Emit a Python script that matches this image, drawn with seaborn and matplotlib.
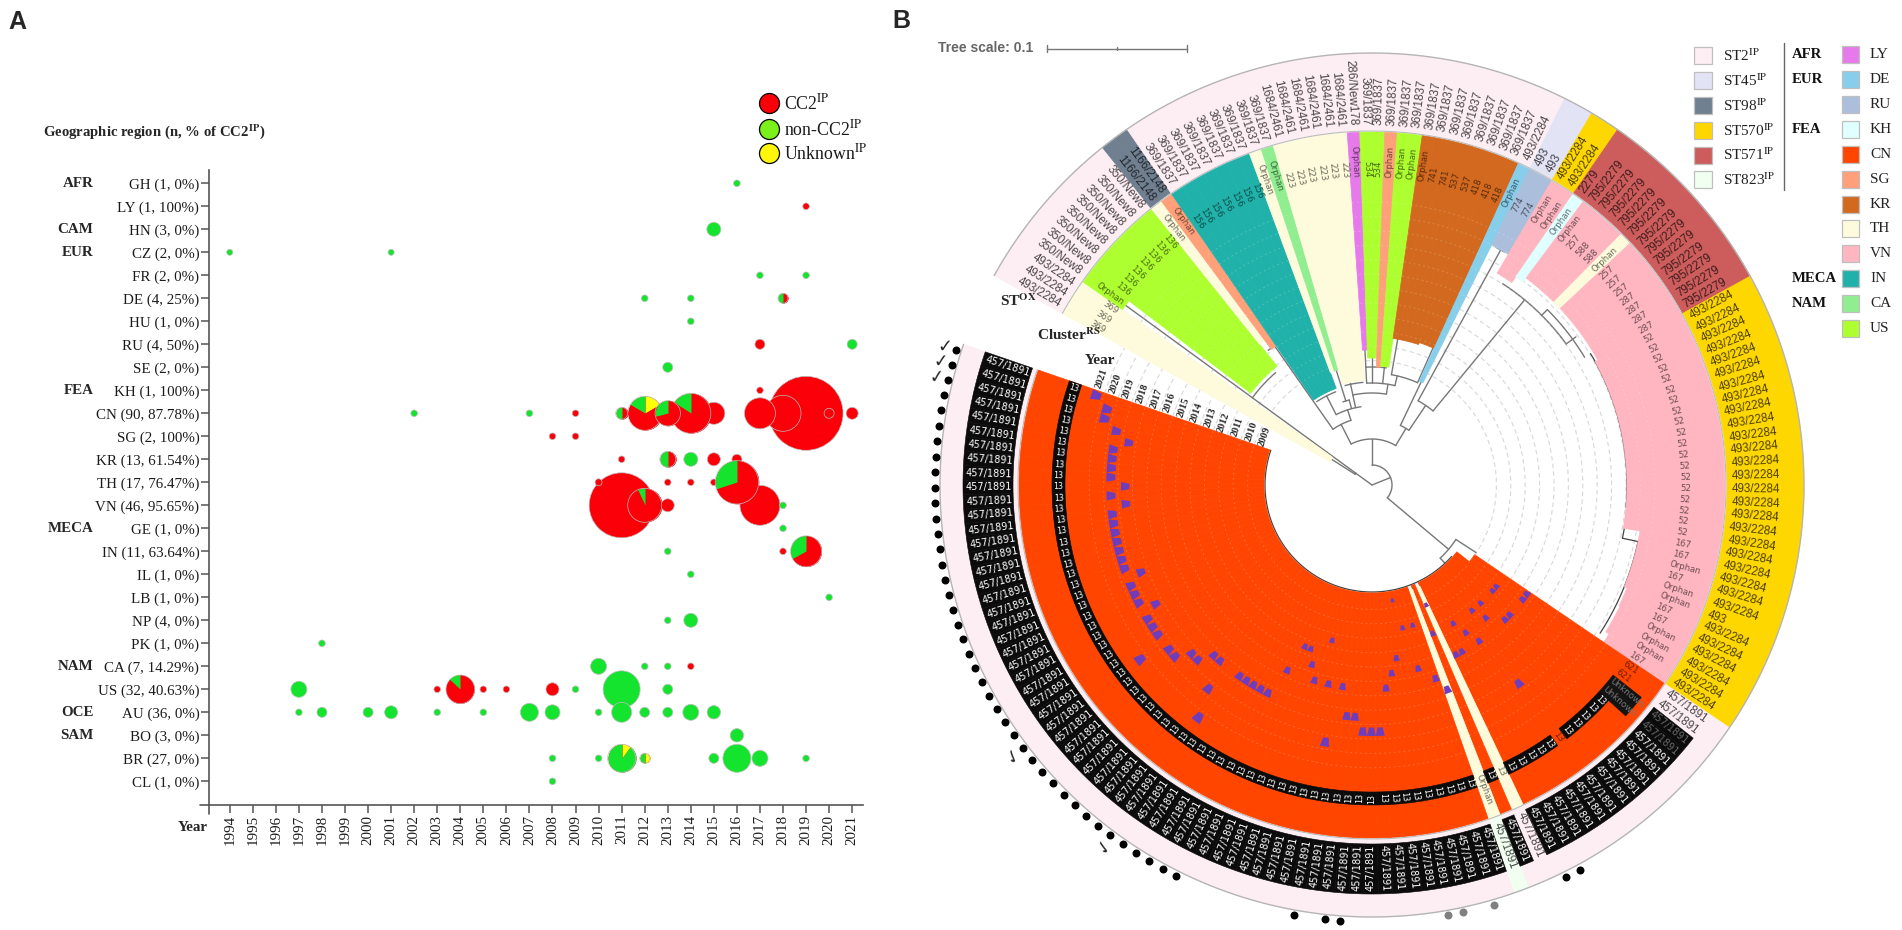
"""Isolate bubble timeline (A) and circular phylogeny annotation rings (B)."""

import matplotlib.colors as mcolors
import matplotlib.pyplot as plt
import numpy as np
import pandas as pd
import seaborn as sns
from matplotlib.path import Path
from matplotlib.patches import Rectangle

# panel A
countries = ["GH", "LY", "HN", "CZ", "FR", "DE", "HU", "RU", "SE", "KH", "CN", "SG", "KR", "TH",
             "VN", "GE", "IN", "IL", "LB", "NP", "PK", "CA", "US", "AU", "BO", "BR", "CL"]
country_labels = ["GH (1, 0%)", "LY (1, 100%)", "HN (3, 0%)", "CZ (2, 0%)", "FR (2, 0%)", "DE (4, 25%)",
                  "HU (1, 0%)", "RU (4, 50%)", "SE (2, 0%)", "KH (1, 100%)", "CN (90, 87.78%)",
                  "SG (2, 100%)", "KR (13, 61.54%)", "TH (17, 76.47%)", "VN (46, 95.65%)", "GE (1, 0%)",
                  "IN (11, 63.64%)", "IL (1, 0%)", "LB (1, 0%)", "NP (4, 0%)", "PK (1, 0%)",
                  "CA (7, 14.29%)", "US (32, 40.63%)", "AU (36, 0%)", "BO (3, 0%)", "BR (27, 0%)",
                  "CL (1, 0%)"]
region_rows = ["GH", "HN", "CZ", "KH", "GE", "CA", "AU", "BO"]
region_names = ["AFR", "CAM", "EUR", "FEA", "MECA", "NAM", "OCE", "SAM"]
years = list(range(1994, 2022))

red_country = ["LY", "RU", "KH", "CN", "CN", "CN", "CN", "CN", "CN", "CN", "SG", "SG", "KR", "KR", "KR", "TH",
               "TH", "TH", "TH", "VN", "VN", "VN", "IN", "CA", "US", "US", "US", "US"]
red_year = [2019, 2017, 2017, 2009, 2015, 2017, 2018, 2019, 2020, 2021, 2008, 2009, 2011, 2015, 2016, 2010,
            2013, 2014, 2015, 2011, 2013, 2017, 2018, 2014, 2003, 2005, 2006, 2008]
red_size = [3.3, 5, 3.3, 3.3, 11, 15.5, 18, 37, 5, 6, 3.3, 3.3, 3.3, 6.5, 5, 3.5,
            3.3, 3.3, 3.3, 32.5, 6.5, 20, 3.3, 3.3, 3.3, 3.3, 3.3, 6.5]

green_country = ["GH", "HN", "CZ", "CZ", "FR", "FR", "DE", "DE", "HU", "RU", "SE", "CN", "CN", "KR", "VN", "GE",
                 "IN", "IL", "LB", "NP", "NP", "PK", "CA", "CA", "CA", "US", "US", "US", "US",
                 "AU", "AU", "AU", "AU", "AU", "AU", "AU", "AU", "AU", "AU", "AU", "AU", "AU", "AU",
                 "BO", "BR", "BR", "BR", "BR", "BR", "BR", "CL"]
green_year = [2016, 2015, 1994, 2001, 2017, 2019, 2012, 2014, 2014, 2021, 2013, 2002, 2007, 2014, 2018, 2018,
              2013, 2014, 2020, 2013, 2014, 1998, 2010, 2012, 2013, 1997, 2009, 2011, 2013,
              1997, 1998, 2000, 2001, 2003, 2005, 2007, 2008, 2010, 2011, 2012, 2013, 2014, 2015,
              2016, 2008, 2010, 2015, 2016, 2017, 2019, 2008]
green_size = [3.3, 7, 3, 3, 3.3, 3.3, 3.3, 3.3, 3.3, 5, 5, 3.3, 3.3, 7, 3.3, 3.3,
              3.3, 3.3, 3.3, 3.3, 7, 3.3, 8, 3.3, 3.3, 8, 3.3, 18.5, 5,
              3.3, 5, 5, 6.5, 3.3, 3.3, 9, 7.5, 3.3, 10, 5, 5, 8, 6.7,
              6.7, 3.3, 3.3, 5, 14, 8, 3.3, 3.3]

pie_country = ["DE", "CN", "CN", "CN", "CN", "KR", "TH", "VN", "IN", "US", "BR", "BR"]
pie_year = [2018, 2011, 2012, 2013, 2014, 2013, 2016, 2012, 2019, 2004, 2011, 2012]
pie_size = [5, 6, 17, 12.7, 20, 8, 21.7, 17, 15.5, 14.3, 14, 5]
pie_unknown = [0, 0, 0.167, 0, 0, 0, 0, 0, 0, 0, 0.1, 0.5]
pie_cc2 = [0.5, 0.5, 0.667, 0.71, 0.84, 0.5, 0.7, 0.93, 0.67, 0.87, 0, 0]
pie_non = [0.5, 0.5, 0.167, 0.29, 0.16, 0.5, 0.3, 0.07, 0.33, 0.13, 0.9, 0.5]

# panel B, leaves run clockwise from the upper left
st_labels = ["493/2284", "350/New8", "1166/2148", "369/1837", "1684/2461", "286/New178", "369/1837", "493/2284",
             "493", "493/2284", "2279", "795/2279", "493/2284", "493", "493/2284", "457/1891", "457/1891",
             "457/1891"]
st_counts = [3, 8, 2, 9, 6, 1, 13, 1, 2, 2, 1, 12, 24, 1, 6, 17, 1, 63]
st_types = ["ST2", "ST2", "ST98", "ST2", "ST2", "ST2", "ST2", "ST2", "ST45", "ST570", "ST571", "ST571", "ST570",
            "ST570", "ST570", "ST2", "ST823", "ST2"]

cluster_labels = ["369", "Orphan", "136", "Orphan", "Orphan", "156", "Orphan", "Orphan", "223", "Orphan", "534",
                  "Orphan", "Orphan", "Orphan", "741", "537", "418", "Orphan", "774", "Orphan", "Orphan", "Orphan",
                  "257", "588", "Orphan", "257", "287", "52", "167", "Orphan", "167", "Orphan", "167", "Orphan",
                  "167", "621", "Unknown", "13", "13", "13", "13", "13", "Orphan", "13"]
cluster_counts = [3, 1, 7, 1, 1, 7, 1, 1, 6, 1, 2, 1, 2, 1, 2, 2, 3, 1, 2, 2, 1, 1, 1, 2, 1, 3, 4, 19,
                  2, 1, 1, 2, 2, 3, 1, 2, 2, 5, 1, 5, 1, 1, 1, 63]
cluster_country = ["TH", "US", "US", "TH", "SG", "IN", "TH", "CA", "TH", "LY", "US", "SG", "US", "KR", "KR", "KR",
                   "KR", "DE", "RU", "VN", "KH", "VN", "VN", "VN", "TH", "VN", "VN", "VN", "VN", "VN", "VN", "VN",
                   "VN", "VN", "VN", "CN", "CN", "CN", "CN", "CN", "TH", "CN", "TH", "CN"]
cluster_tips = [48, 305, 152, 180, 169, 103, 120, 120, 105, 135, 127, 118, 119, 148, 148, 148, 150, 114, 268, 246,
                253, 258, 258, 258, 257, 258, 258, 255, 272, 272, 272, 272, 275, 276, 280, 124, 108, 108, 108,
                108, 112, 108, 112, 108]

# isolation year of the CN leaves, first leaf of the CN block onward
cn_leaf_year = [2014, 2014, 2012, 2012, 2014, 2014, 2012, 2013, 2012, 2018, 2014, 2013, 2012, 2014, 2014, 2010,
                2012, 2016, 2015, 2011, 2014, 2011, 2009, 2013, 2014, 2015, 2018, 2018, 2018, 2017, 2017, 2015,
                2019, 2015, 2012, 2015, 2014, 2013, 2013, 2015, 2017, 2017, 2017, 2017, 2017, 2021, 2019, 2017,
                2017, 2018, 2018, 2019, 2019, 2021, 2019, 2019, 2019, 2018, 2019, 2019, 2019, 2018, 2019, 2019,
                2019, 2019, 2019, 2019, 2019, 2018, 2019, 2018, 2019, 2019, 2019, 2019, 2018, 2019, 2020, 2020,
                2021]
black_dot_leaves = [13, 14, 29, 30, 32] + list(range(40, 81))
grey_dot_leaves = [19, 21, 22]
check_leaves = [45, 53, 78, 79, 80]
ring_years = list(range(2009, 2022))

tree_arcs = [(20, 143.9, 147.5), (148, 130.6, 143.9), (20, 90, -40), (46, 117, 59), (68, 125, 108),
             (170, 125.6, 127.6), (79, 117, 98), (100, 123.5, 111.3), (88, 109.3, 105), (92, 102, 81),
             (103, 105.2, 95), (102, 93, 77), (118, 93, 83), (112, 80, 66), (66, 64.5, 56), (96, 61.3, 50.5),
             (268, 62.4, 60.4), (240, 57, 36), (248, 45, 31), (100, -33, -47)]
tree_spokes = [(144, 0, 20), (143.9, 20, 305), (147.5, 20, 48), (22, 0, 20), (90, 20, 46), (117, 46, 68),
               (125, 68, 170), (108, 68, 79), (117, 79, 100), (105, 79, 88), (107.3, 88, 120), (102, 79, 92),
               (102, 92, 104), (81, 92, 102), (93, 102, 135), (90, 102, 127), (84, 102, 119), (77, 102, 112),
               (80, 112, 148), (66, 112, 150), (59, 46, 66), (64.5, 66, 114), (56, 66, 96), (61.3, 96, 268),
               (50.5, 96, 240), (36, 240, 252), (45, 240, 248), (-40, 20, 100), (-33, 100, 124), (-47, 100, 107)]
tree_dark_arcs = [(255, 31, -5), (256, -5, -12), (272, -12, -33), (107, -42, -199)]
tree_dark_spokes = [(-12, 256, 272)]

st_palette = {"ST2": "#FCEEF3", "ST45": "#E3E3F6", "ST98": "#708090", "ST570": "#FFD700", "ST571": "#CD5C5C",
              "ST823": "#F0FFF0"}
country_palette = {"LY": "#E77AEA", "DE": "#87CEEB", "RU": "#ABBEDC", "KH": "#E0FFFF", "CN": "#FF4500",
                   "SG": "#FFA07A", "KR": "#D2691E", "TH": "#FDFBDC", "VN": "#FFB6C1", "IN": "#20B2AA",
                   "CA": "#90EE90", "US": "#ADFF2F"}
legend_regions = {"LY": "AFR", "DE": "EUR", "KH": "FEA", "IN": "MECA", "CA": "NAM"}
pie_colors = {"red": "#FB0008", "green": "#14E42D", "yellow": "#FFFF05"}

PX_PER_PT = 100 / 72
SERIF = "Liberation Serif"
SANS = "Liberation Sans"
CELL_FONT = "DejaVu Sans"


def marker_area(radius_px: float) -> float:
    """Scatter area for a circle with the given radius in pixels."""
    return (2 * radius_px / PX_PER_PT) ** 2


def wedge_marker(start: float, stop: float) -> tuple[Path, float]:
    """Wedge path, angles in turns clockwise from 12 o'clock, with its marker rescale."""
    angles = np.pi / 2 - 2 * np.pi * np.linspace(start, stop, 40)
    verts = np.vstack([[0, 0], np.column_stack([np.cos(angles), np.sin(angles)]), [0, 0]])
    return Path(verts, closed=True), float(np.abs(verts).max())


def draw_timeline(ax: plt.Axes) -> None:
    """Draw panel A."""
    rows = {name: idx for idx, name in enumerate(countries)}
    solid = pd.concat(
        [
            pd.DataFrame({"country": red_country, "year": red_year, "radius": red_size, "kind": "red"}),
            pd.DataFrame({"country": green_country, "year": green_year, "radius": green_size, "kind": "green"}),
        ],
        ignore_index=True,
    )
    solid["row"] = solid["country"].map(rows)
    solid = solid.sort_values("radius", ascending=False)
    sns.scatterplot(
        data=solid,
        x="year",
        y="row",
        hue="kind",
        palette=pie_colors,
        size="radius",
        sizes={r: marker_area(r) for r in solid["radius"].unique()},
        edgecolor="#BDBDBD",
        linewidth=0.5,
        legend=False,
        zorder=3,
        ax=ax,
    )

    order = np.argsort(pie_size)[::-1]
    for rank, idx in enumerate(order):
        x, y, radius = pie_year[idx], rows[pie_country[idx]], pie_size[idx]
        zorder = 4 + rank * 0.1
        ax.scatter(x, y, s=marker_area(radius), color=pie_colors["red"], linewidth=0, zorder=zorder)
        start = 0.0
        shares = [(pie_unknown[idx], "yellow"), (pie_cc2[idx], "red"), (pie_non[idx], "green")]
        for share, name in shares:
            if share > 0:
                path, rescale = wedge_marker(start, start + share)
                ax.scatter(x, y, s=marker_area(radius * rescale), marker=path, color=pie_colors[name],
                           linewidth=0, zorder=zorder)
            start += share
        ax.scatter(x, y, s=marker_area(radius), facecolor="none", edgecolor="#BDBDBD", linewidth=0.5, zorder=zorder)

    ax.set_xlim(1993.1, 2021.47)
    ax.set_ylim(27.03, -0.578)
    ax.set_xticks(years, [str(y) for y in years], rotation=90, family=SERIF, fontsize=10.8, color="#1A1A1A")
    ax.set_yticks(range(len(countries)), country_labels, family=SERIF, fontsize=10.8, color="#1A1A1A")
    ax.tick_params(axis="both", length=5.5, width=1.1, color="#555555", pad=1.5, left=True, bottom=True)
    ax.set_xlabel("")
    ax.set_ylabel("")
    for side in ["top", "right"]:
        ax.spines[side].set_visible(False)
    for side in ["left", "bottom"]:
        ax.spines[side].set_color("#555555")
        ax.spines[side].set_linewidth(1.2)
    ax.plot([1993.1, 1993.1], [27.03, 27.42], color="#555555", lw=1.2, clip_on=False)
    ax.plot([1992.72, 1993.1], [27.03, 27.03], color="#555555", lw=1.2, clip_on=False)

    for name, region in zip(region_rows, region_names):
        ax.text(-0.1766, rows[name], region, transform=ax.get_yaxis_transform(), ha="right", va="center",
                family=SERIF, fontweight="bold", fontsize=10.8)


def radial_text(ax: plt.Axes, deg: float, r: float, label: str, ha: str = "outer", **kws) -> None:
    """Write a label along the radius at deg, kept upright on the left half."""
    norm = (deg + 180) % 360 - 180
    right_half = -90 <= norm <= 90
    rotation = norm if right_half else norm + 180
    if ha == "outer":
        ha = "left" if right_half else "right"
    ax.text(np.deg2rad(deg), r, label, rotation=rotation, rotation_mode="anchor", ha=ha, va="center", **kws)


def dark(color: str, factor: float = 0.38) -> tuple:
    """Darken a fill colour for text that sits on it."""
    return tuple(c * factor for c in mcolors.to_rgb(color))


def draw_rings(ax: plt.Axes) -> None:
    """Draw panel B."""
    st_label = np.repeat(st_labels, st_counts)
    st_type = np.repeat(st_types, st_counts)
    cl_label = np.repeat(cluster_labels, cluster_counts)
    cl_country = np.repeat(cluster_country, cluster_counts)
    cl_tip = np.repeat(cluster_tips, cluster_counts)
    n_leaves = len(st_label)
    step = 350 / n_leaves
    leaf_deg = 151 - (np.arange(n_leaves) + 0.5) * step
    leaf_rad = np.deg2rad(leaf_deg)
    width = np.deg2rad(step)
    cn_start = n_leaves - len(cn_leaf_year)
    r_ring_in, r_ring_out, r_cell_in, r_cell_out = 355, 432, 359, 409
    r_wedge_out, r_box_in, r_box_out = 353, 307, 320
    year_r = {y: 290 - (2021 - y) * 14.4 for y in ring_years}

    # year circles sit under the coloured wedges in the white tree area
    arc = np.deg2rad(np.linspace(161, -199, 500))
    for y in ring_years[1:]:
        ax.plot(arc, np.full_like(arc, year_r[y] - 7.2), color="#D5D5D5", lw=0.8, ls=(0, (4, 3)), zorder=1)

    for r, t1, t2 in tree_arcs:
        t = np.deg2rad(np.linspace(t1, t2, 40))
        ax.plot(t, np.full_like(t, r), color="#777777", lw=1.0, zorder=2)
    for deg, r1, r2 in tree_spokes:
        ax.plot(np.deg2rad([deg, deg]), [r1, r2], color="#777777", lw=1.0, zorder=2)
    for r, t1, t2 in tree_dark_arcs:
        t = np.deg2rad(np.linspace(t1, t2, 120))
        ax.plot(t, np.full_like(t, r), color="#444444", lw=0.9, zorder=2)
    for deg, r1, r2 in tree_dark_spokes:
        ax.plot(np.deg2rad([deg, deg]), [r1, r2], color="#444444", lw=0.9, zorder=2)

    wedge_colors = [country_palette[c] for c in cl_country]
    ax.bar(leaf_rad, r_wedge_out - cl_tip, width=width, bottom=cl_tip, color=wedge_colors,
           edgecolor=wedge_colors, linewidth=0.5, zorder=3)
    for y in ring_years[1:]:
        ax.plot(arc, np.full_like(arc, year_r[y] - 7.2), color="white", alpha=0.2, lw=0.7, ls=(0, (2, 3)), zorder=3.5)

    ring_colors = [st_palette[t] for t in st_type]
    ax.bar(leaf_rad, r_ring_out - r_ring_in, width=width, bottom=r_ring_in, color=ring_colors,
           edgecolor=ring_colors, linewidth=0.5, zorder=3)
    ring_arc = np.deg2rad(np.linspace(151, -199, 600))
    ax.plot(ring_arc, np.full_like(ring_arc, r_ring_out), color="#B5B5B5", lw=1.0, zorder=4)
    ax.plot(ring_arc, np.full_like(ring_arc, r_ring_in - 1), color="#BBBBBB", lw=0.8, zorder=4)

    # st labels, black boxes for the isolates of the large clone
    plain_st = [cn_start, cn_start + 1, cn_start + 15, cn_start + 17]
    black_st = [i for i in range(cn_start, n_leaves) if i not in plain_st]
    ax.bar(leaf_rad[black_st], r_cell_out - r_cell_in, width=width, bottom=r_cell_in, color="#0B0B0B",
           edgecolor="#0B0B0B", linewidth=0.4, zorder=5)
    for i in range(n_leaves):
        if i in black_st:
            shade = "#6A6A6A" if i in (cn_start + 2, cn_start + 3) else "white"
            radial_text(ax, leaf_deg[i], r_cell_in + 1, st_label[i], color=shade, family=CELL_FONT, fontsize=7.0,
                        zorder=6)
        else:
            radial_text(ax, leaf_deg[i], r_cell_in + 1, st_label[i], color=dark(ring_colors[i], 0.3), family=SANS,
                        fontsize=8.4, zorder=6)

    # cluster labels
    for i in range(n_leaves):
        label = cl_label[i]
        bg = wedge_colors[i]
        if label == "Unknown":
            ax.bar(leaf_rad[i], 36, width=width, bottom=r_box_in, color="#141414", edgecolor="#141414", linewidth=0.4,
                   zorder=5)
            radial_text(ax, leaf_deg[i], r_box_in + 1, label, color="#777777", family=CELL_FONT, fontsize=6.4, zorder=6)
        elif label == "13" and cl_country[i] == "CN" and i != cn_start + 9:
            ax.bar(leaf_rad[i], r_box_out - r_box_in, width=width, bottom=r_box_in, color="#0B0B0B",
                   edgecolor="#0B0B0B", linewidth=0.4, zorder=5)
            radial_text(ax, leaf_deg[i], (r_box_in + r_box_out) / 2, label, ha="center", color="white",
                        family=CELL_FONT, fontsize=5.8, zorder=6)
        else:
            radial_text(ax, leaf_deg[i], r_box_in + 1, label, color=dark(bg, 0.42), family=CELL_FONT, fontsize=6.2,
                        zorder=6)

    # isolation year marks, tapered towards the tree
    half_out = np.deg2rad(step) * 0.5
    half_in = half_out * 0.6
    for leaf_idx, year in enumerate(cn_leaf_year):
        theta = leaf_rad[cn_start + leaf_idx]
        r_mid = year_r[year]
        half_h = 0.017 * r_mid
        ax.fill(
            [theta - half_in, theta + half_in, theta + half_out, theta - half_out],
            [r_mid - half_h, r_mid - half_h, r_mid + half_h, r_mid + half_h],
            color="#6F3DBB",
            linewidth=0,
            zorder=7,
        )

    for y in ring_years:
        ax.text(np.deg2rad(160.6), year_r[y], str(y), rotation=71, rotation_mode="anchor", ha="left", va="center",
                family=SERIF, fontweight="bold", fontsize=7.4, zorder=8)

    # outer dots and ticks
    sns.scatterplot(x=leaf_rad[cn_start:][black_dot_leaves], y=np.full(len(black_dot_leaves), 437.0), color="black",
                    s=33, linewidth=0, legend=False, ax=ax, zorder=8)
    sns.scatterplot(x=leaf_rad[cn_start:][grey_dot_leaves], y=np.full(len(grey_dot_leaves), 437.0), color="#808080",
                    s=33, linewidth=0, legend=False, ax=ax, zorder=8)
    for leaf in check_leaves:
        deg = leaf_deg[cn_start + leaf]
        ax.text(np.deg2rad(deg), 449, "\u2713", rotation=deg - 161, ha="center", va="center", family="DejaVu Sans",
                fontweight="bold", fontsize=13, zorder=8)

    ax.set_rlim(0, 460)
    ax.set_axis_off()


def draw_annotations(ov: plt.Axes) -> None:
    """Panel letters, legends and headings, placed in figure pixels."""
    ov.set_xlim(0, 1902)
    ov.set_ylim(930, 0)
    ov.set_axis_off()
    ov.patch.set_alpha(0)

    ov.text(8, 22, "A", family=SANS, fontweight="bold", fontsize=18, va="center")
    ov.text(892, 21, "B", family=SANS, fontweight="bold", fontsize=18, va="center")
    ov.text(43, 132, r"Geographic region (n, % of CC2$^{\mathbf{IP}}$)", family=SERIF, fontweight="bold",
            fontsize=10.6, va="center")
    ov.text(178, 827, "Year", family=SERIF, fontweight="bold", fontsize=10.8, va="center")

    legend_a = [("CC2$^{\\mathrm{IP}}$", "#FB0008", 103), ("non-CC2$^{\\mathrm{IP}}$", "#7CF01A", 129),
                ("Unknown$^{\\mathrm{IP}}$", "#FFF60A", 153)]
    for label, color, y in legend_a:
        ov.scatter(769, y, s=marker_area(10), color=color, edgecolor="black", linewidth=0.9, zorder=3)
        ov.text(784, y, label, family=SERIF, fontsize=12.8, va="center", color="#1A1A1A")

    ov.text(938, 48, "Tree scale: 0.1", family=SANS, fontweight="bold", color="#666666", fontsize=10, va="center")
    ov.plot([1047, 1187], [49, 49], color="#777777", lw=1.0)
    for x, half in [(1047, 3.5), (1117, 1.5), (1187, 3.5)]:
        ov.plot([x, x], [49 - half, 49 + half], color="#777777", lw=1.0)

    for i, (st, color) in enumerate(st_palette.items()):
        y = 56 + i * 24.8
        ov.add_patch(Rectangle((1694, y - 8.5), 18, 17, facecolor=color, edgecolor="#BFBFBF", lw=0.9))
        ov.text(1723, y, st + "$^{\\mathrm{IP}}$", family=SERIF, fontsize=11, color="#222222", va="center")
    ov.plot([1784, 1784], [43, 190], color="#666666", lw=1.0)

    for i, (code, color) in enumerate(country_palette.items()):
        y = 55 + i * 24.85
        ov.add_patch(Rectangle((1842, y - 8.5), 17, 17, facecolor=color, edgecolor="#BFBFBF", lw=0.9))
        ov.text(1870, y, code, family=SERIF, fontsize=11, color="#222222", va="center")
        if code in legend_regions:
            ov.text(1792, y, legend_regions[code], family=SERIF, fontweight="bold", fontsize=10.6, color="#111111",
                    va="center")

    ov.text(1000, 301, r"ST$^{\mathbf{OX}}$", family=SERIF, fontweight="bold", fontsize=11, va="center")
    ov.text(1037, 335, r"Cluster$^{\mathbf{RS}}$", family=SERIF, fontweight="bold", fontsize=11, va="center")
    ov.text(1085, 360, "Year", family=SERIF, fontweight="bold", fontsize=11, va="center")


def main() -> None:
    """Build the two panels and save the figure."""
    sns.set_theme(style="white")
    plt.rcParams["font.family"] = [SERIF, "DejaVu Sans"]
    plt.rcParams["mathtext.fontset"] = "stix"

    fig_w, fig_h = 1902, 930
    fig = plt.figure(figsize=(fig_w / 100, fig_h / 100), dpi=100, facecolor="white")

    ax_a = fig.add_axes([209 / fig_w, (fig_h - 805) / fig_h, 654 / fig_w, 635 / fig_h])
    draw_timeline(ax_a)

    center_x, center_y, radius = 1372, 485, 460
    ax_b = fig.add_axes(
        [(center_x - radius) / fig_w, (fig_h - center_y - radius) / fig_h, 2 * radius / fig_w, 2 * radius / fig_h],
        projection="polar",
    )
    draw_rings(ax_b)

    overlay = fig.add_axes([0, 0, 1, 1], zorder=10)
    draw_annotations(overlay)

    fig.savefig("out.png", dpi=100)
    plt.close(fig)


if __name__ == "__main__":
    main()
